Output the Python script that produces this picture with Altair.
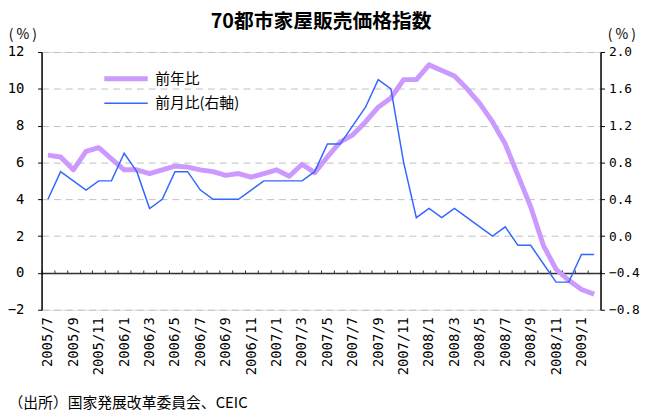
import json
import altair as alt
import pandas as pd

months = ["2005/7", "2005/8", "2005/9", "2005/10", "2005/11", "2005/12",
          "2006/1", "2006/2", "2006/3", "2006/4", "2006/5", "2006/6",
          "2006/7", "2006/8", "2006/9", "2006/10", "2006/11", "2006/12",
          "2007/1", "2007/2", "2007/3", "2007/4", "2007/5", "2007/6",
          "2007/7", "2007/8", "2007/9", "2007/10", "2007/11", "2007/12",
          "2008/1", "2008/2", "2008/3", "2008/4", "2008/5", "2008/6",
          "2008/7", "2008/8", "2008/9", "2008/10", "2008/11", "2008/12",
          "2009/1", "2009/2"]

yoy = [6.4, 6.3, 5.6, 6.6, 6.8, 6.2, 5.6, 5.6, 5.4, 5.6, 5.8, 5.75,
       5.6, 5.5, 5.3, 5.4, 5.2, 5.4, 5.6, 5.25, 5.9, 5.45, 6.3, 7.1,
       7.5, 8.2, 9.0, 9.5, 10.5, 10.5, 11.3, 11.0, 10.7, 10.0, 9.2, 8.2,
       7.0, 5.3, 3.6, 1.5, 0.2, -0.4, -0.9, -1.15]

mom = [0.4, 0.7, 0.6, 0.5, 0.6, 0.6, 0.9, 0.7, 0.3, 0.4, 0.7, 0.7,
       0.5, 0.4, 0.4, 0.4, 0.5, 0.6, 0.6, 0.6, 0.6, 0.7, 1.0, 1.0,
       1.2, 1.4, 1.7, 1.6, 0.8, 0.2, 0.3, 0.2, 0.3, 0.2, 0.1, 0.0,
       0.1, -0.1, -0.1, -0.3, -0.5, -0.5, -0.2, -0.2]

series_names = ["前年比", "前月比(右軸)"]
colors = ["#CC99FF", "#3366FF"]
widths = [5, 1.5]

left_ticks = [-2, 0, 2, 4, 6, 8, 10, 12]
right_ticks = [-0.8, -0.4, 0.0, 0.4, 0.8, 1.2, 1.6, 2.0]

title_text = "70都市家屋販売価格指数"
source_text = "（出所）国家発展改革委員会、CEIC"
unit_text = "( % )"

n = len(months)
rows = []
for i in range(n):
    rows.append({"i": i, "month": months[i], "series": series_names[0], "value": yoy[i]})
for i in range(n):
    rows.append({"i": i, "month": months[i], "series": series_names[1], "value": mom[i]})
df = pd.DataFrame(rows)

NUM_FONT = "DejaVu Sans Mono"
CJK_FONT = "Noto Sans CJK JP"

xscale = alt.Scale(domain=[-0.5, n - 0.5], nice=False, zero=False)
label_expr = json.dumps(months) + "[datum.value]"

legend_props = dict(
    title=None, orient="none", legendX=61, legendY=17,
    symbolType="stroke", symbolSize=1936,
    labelFont=CJK_FONT, labelFontSize=15, labelColor="#000000",
    labelOffset=5, clipHeight=20, rowPadding=5, padding=0,
)

color_enc = alt.Color(
    "series:N",
    scale=alt.Scale(domain=series_names, range=colors),
    legend=alt.Legend(symbolStrokeWidth=5, **legend_props),
)
sw_enc = alt.StrokeWidth(
    "series:N",
    scale=alt.Scale(domain=series_names, range=widths),
    legend=alt.Legend(**legend_props),
)

base = alt.Chart(df)

yoy_line = base.transform_filter(
    alt.datum.series == series_names[0]
).mark_line(strokeJoin="round").encode(
    x=alt.X("i:Q", scale=xscale, axis=alt.Axis(
        orient="bottom", values=list(range(0, n, 2)), labelExpr=label_expr,
        labelAngle=270, labelFont=NUM_FONT, labelFontSize=14, labelColor="#000000",
        labelPadding=7, ticks=False, domain=False, grid=False,
        title=source_text, titleFont=CJK_FONT, titleFontSize=15,
        titleFontWeight="normal", titleColor="#000000",
        titleX=-34, titleY=94, titleAlign="left", titleBaseline="middle",
        titleAngle=0, labelOverlap=False,
    )),
    y=alt.Y("value:Q", scale=alt.Scale(domain=[-2, 12], nice=False, zero=False),
            axis=alt.Axis(
                orient="left", values=left_ticks, grid=True,
                gridDash=[7, 5], gridColor="#c0c0c0", gridWidth=1,
                domainColor="#000000", domainWidth=1.5,
                tickColor="#000000", tickSize=4,
                labelFont=NUM_FONT, labelFontSize=14, labelColor="#000000",
                labelPadding=14,
                title=unit_text, titleAngle=0, titleX=-19.5, titleY=-18,
                titleAlign="center", titleBaseline="middle",
                titleFont=CJK_FONT, titleFontSize=14, titleFontWeight="normal",
                titleColor="#000000",
            )),
    color=color_enc,
    strokeWidth=sw_enc,
)

mom_line = base.transform_filter(
    alt.datum.series == series_names[1]
).mark_line().encode(
    x=alt.X("i:Q", scale=xscale, axis=alt.Axis(
        orient="top", offset=-223.7,
        values=[k - 0.5 for k in range(n + 1)],
        labels=False, ticks=True, tickSize=3, tickColor="#333333",
        domain=True, domainColor="#333333", domainWidth=1.5,
        grid=False, title=None,
    )),
    y=alt.Y("value:Q", scale=alt.Scale(domain=[-0.8, 2.0], nice=False, zero=False),
            axis=alt.Axis(
                orient="right", values=right_ticks, format=".1f", grid=False,
                domainColor="#000000", domainWidth=1.5,
                tickColor="#000000", tickSize=4,
                labelFont=NUM_FONT, labelFontSize=13, labelColor="#000000",
                labelPadding=4,
                title=unit_text, titleAngle=0, titleX=21, titleY=-18,
                titleAlign="center", titleBaseline="middle",
                titleFont=CJK_FONT, titleFontSize=14, titleFontWeight="normal",
                titleColor="#000000",
            )),
    color=color_enc,
    strokeWidth=sw_enc,
)

chart = alt.layer(yoy_line, mom_line).resolve_scale(
    y="independent"
).properties(
    width=566,
    height=261,
    title=alt.TitleParams(
        text=title_text, font=CJK_FONT, fontSize=20, fontWeight="bold",
        color="#000000", anchor="middle", offset=-5,
    ),
    autosize=alt.AutoSizeParams(type="none"),
    padding={"left": 34, "top": 42, "right": 42, "bottom": 102},
).configure_view(
    stroke=None
).configure(
    background="white"
)

chart.save("out.html", embed_options={"renderer": "svg", "actions": False})
